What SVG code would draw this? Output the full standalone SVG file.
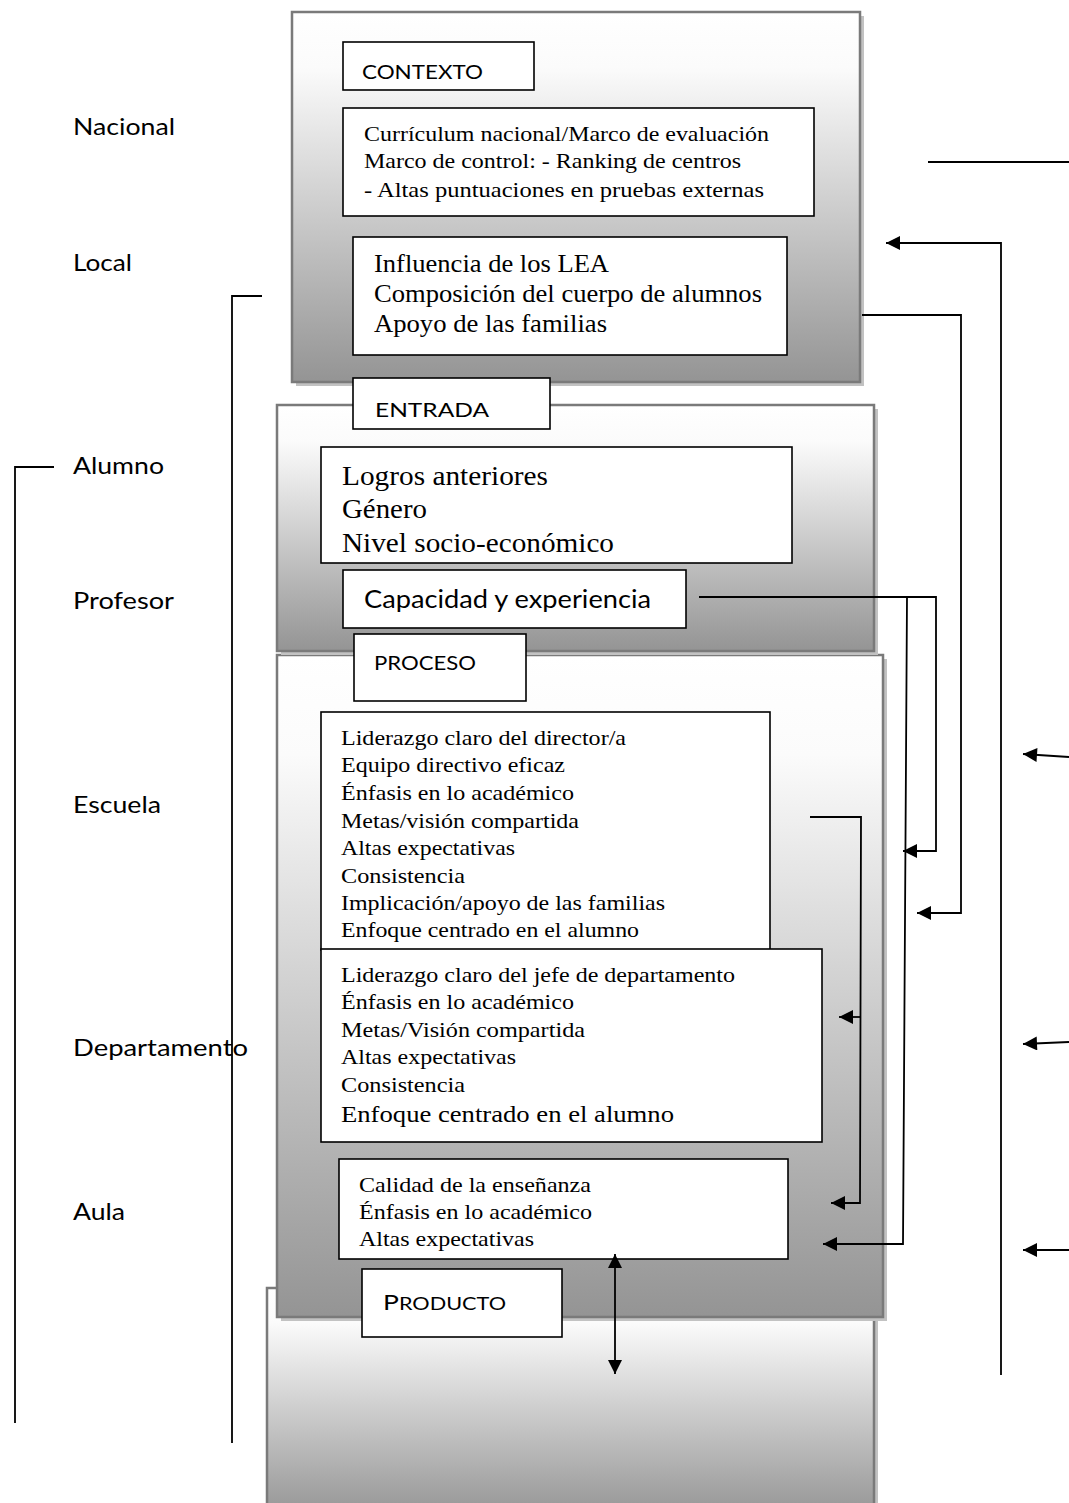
<svg xmlns="http://www.w3.org/2000/svg" width="1069" height="1503" viewBox="0 0 1069 1503">
<defs>
<linearGradient id="g" x1="0" y1="0" x2="0" y2="1">
<stop offset="0" stop-color="#ffffff"/>
<stop offset="0.15" stop-color="#fbfbfb"/>
<stop offset="1" stop-color="#949494"/>
</linearGradient>
<marker id="ah" viewBox="0 0 10 10" refX="10" refY="5" markerWidth="16" markerHeight="14" markerUnits="userSpaceOnUse" orient="auto-start-reverse">
<path d="M0,0 L10,5 L0,10 z" fill="#000"/>
</marker>
</defs>
<style>
.outer{fill:url(#g);stroke:#7a7a7a;stroke-width:2.5}
.shadow{fill:#c2c2c2}
.box{fill:#fff;stroke:#000;stroke-width:1.6}
.serif{font-family:"Liberation Serif","Times New Roman",serif;fill:#000}
.sans{font-family:Lato,"Open Sans","Liberation Sans",sans-serif;fill:#000}
.lvl{font-family:Lato,"Open Sans","Liberation Sans",sans-serif;font-size:24px;fill:#000}
.ln{fill:none;stroke:#000;stroke-width:1.8}
.arr{fill:none;stroke:#000;stroke-width:1.8;marker-end:url(#ah)}
</style>
<rect width="1069" height="1503" fill="#fff"/>

<!-- outer stage boxes -->
<g id="producto-panel">
<rect class="shadow" x="271" y="1292" width="607" height="230"/>
<rect class="outer" x="267" y="1288" width="607" height="230"/>
</g>
<g id="proceso-panel">
<rect class="shadow" x="281" y="659" width="606" height="662"/>
<rect class="outer" x="277" y="655" width="606" height="662"/>
</g>
<g id="entrada-panel">
<rect class="shadow" x="281" y="409" width="597" height="246"/>
<rect class="outer" x="277" y="405" width="597" height="246"/>
</g>
<g id="contexto-panel">
<rect class="shadow" x="296" y="16" width="568" height="370"/>
<rect class="outer" x="292" y="12" width="568" height="370"/>
</g>

<!-- level labels -->
<g id="levels">
<text class="lvl" x="73" y="135" textLength="102" lengthAdjust="spacingAndGlyphs">Nacional</text>
<text class="lvl" x="73" y="271" textLength="59" lengthAdjust="spacingAndGlyphs">Local</text>
<text class="lvl" x="73" y="474" textLength="91" lengthAdjust="spacingAndGlyphs">Alumno</text>
<text class="lvl" x="73" y="609" textLength="101" lengthAdjust="spacingAndGlyphs">Profesor</text>
<text class="lvl" x="73" y="813" textLength="88" lengthAdjust="spacingAndGlyphs">Escuela</text>
<text class="lvl" x="73" y="1056" textLength="175" lengthAdjust="spacingAndGlyphs">Departamento</text>
<text class="lvl" x="73" y="1220" textLength="52" lengthAdjust="spacingAndGlyphs">Aula</text>
</g>

<!-- CONTEXTO -->
<g id="contexto-label">
<rect class="box" x="343" y="42" width="191" height="48"/>
<text class="sans" x="362" y="79" font-size="20" textLength="121" lengthAdjust="spacingAndGlyphs">CONTEXTO</text>
</g>
<g id="nacional">
<rect class="box" x="343" y="108" width="471" height="108"/>
<text class="serif" font-size="21" x="364" y="141" textLength="405" lengthAdjust="spacingAndGlyphs">Currículum nacional/Marco de evaluación</text>
<text class="serif" font-size="21" x="364" y="168" textLength="377" lengthAdjust="spacingAndGlyphs">Marco de control: - Ranking de centros</text>
<text class="serif" font-size="21" x="364" y="197" textLength="400" lengthAdjust="spacingAndGlyphs">- Altas puntuaciones en pruebas externas</text>
</g>
<g id="local">
<rect class="box" x="353" y="237" width="434" height="118"/>
<text class="serif" font-size="26" x="374" y="272" textLength="235" lengthAdjust="spacingAndGlyphs">Influencia de los LEA</text>
<text class="serif" font-size="26" x="374" y="302" textLength="388" lengthAdjust="spacingAndGlyphs">Composición del cuerpo de alumnos</text>
<text class="serif" font-size="26" x="374" y="332" textLength="233" lengthAdjust="spacingAndGlyphs">Apoyo de las familias</text>
</g>

<!-- ENTRADA -->
<g id="entrada-label">
<rect class="box" x="353" y="378" width="197" height="51"/>
<text class="sans" x="375" y="417" font-size="20" textLength="114" lengthAdjust="spacingAndGlyphs">ENTRADA</text>
</g>
<g id="alumno">
<rect class="box" x="321" y="447" width="471" height="116"/>
<text class="serif" font-size="27" x="342" y="485" textLength="206" lengthAdjust="spacingAndGlyphs">Logros anteriores</text>
<text class="serif" font-size="27" x="342" y="518" textLength="85" lengthAdjust="spacingAndGlyphs">Género</text>
<text class="serif" font-size="27" x="342" y="552" textLength="272" lengthAdjust="spacingAndGlyphs">Nivel socio-económico</text>
</g>
<g id="profesor">
<rect class="box" x="343" y="570" width="343" height="58"/>
<text class="sans" x="364" y="608" font-size="25" textLength="287" lengthAdjust="spacingAndGlyphs">Capacidad y experiencia</text>
</g>

<!-- PROCESO -->
<g id="proceso-label">
<rect class="box" x="354" y="634" width="172" height="67"/>
<text class="sans" x="374" y="670" font-size="19" textLength="102" lengthAdjust="spacingAndGlyphs">PROCESO</text>
</g>
<g id="escuela">
<rect class="box" x="321" y="712" width="449" height="238"/>
<text class="serif" font-size="21" x="341" y="745" textLength="285" lengthAdjust="spacingAndGlyphs">Liderazgo claro del director/a</text>
<text class="serif" font-size="21" x="341" y="772" textLength="224" lengthAdjust="spacingAndGlyphs">Equipo directivo eficaz</text>
<text class="serif" font-size="21" x="341" y="800" textLength="233" lengthAdjust="spacingAndGlyphs">Énfasis en lo académico</text>
<text class="serif" font-size="21" x="341" y="828" textLength="238" lengthAdjust="spacingAndGlyphs">Metas/visión compartida</text>
<text class="serif" font-size="21" x="341" y="855" textLength="174" lengthAdjust="spacingAndGlyphs">Altas expectativas</text>
<text class="serif" font-size="21" x="341" y="883" textLength="124" lengthAdjust="spacingAndGlyphs">Consistencia</text>
<text class="serif" font-size="21" x="341" y="910" textLength="324" lengthAdjust="spacingAndGlyphs">Implicación/apoyo de las familias</text>
<text class="serif" font-size="21" x="341" y="937" textLength="298" lengthAdjust="spacingAndGlyphs">Enfoque centrado en el alumno</text>
</g>
<g id="departamento">
<rect class="box" x="321" y="949" width="501" height="193"/>
<text class="serif" font-size="21" x="341" y="982" textLength="394" lengthAdjust="spacingAndGlyphs">Liderazgo claro del jefe de departamento</text>
<text class="serif" font-size="21" x="341" y="1009" textLength="233" lengthAdjust="spacingAndGlyphs">Énfasis en lo académico</text>
<text class="serif" font-size="21" x="341" y="1037" textLength="244" lengthAdjust="spacingAndGlyphs">Metas/Visión compartida</text>
<text class="serif" font-size="21" x="341" y="1064" textLength="175" lengthAdjust="spacingAndGlyphs">Altas expectativas</text>
<text class="serif" font-size="21" x="341" y="1092" textLength="124" lengthAdjust="spacingAndGlyphs">Consistencia</text>
<text class="serif" font-size="24" x="341" y="1122" textLength="333" lengthAdjust="spacingAndGlyphs">Enfoque centrado en el alumno</text>
</g>
<g id="aula">
<rect class="box" x="339" y="1159" width="449" height="100"/>
<text class="serif" font-size="21" x="359" y="1192" textLength="232" lengthAdjust="spacingAndGlyphs">Calidad de la enseñanza</text>
<text class="serif" font-size="21" x="359" y="1219" textLength="233" lengthAdjust="spacingAndGlyphs">Énfasis en lo académico</text>
<text class="serif" font-size="21" x="359" y="1246" textLength="175" lengthAdjust="spacingAndGlyphs">Altas expectativas</text>
</g>

<!-- PRODUCTO -->
<g id="producto-label">
<rect class="box" x="362" y="1269" width="200" height="68"/>
<text class="sans" x="383" y="1310" font-size="22" textLength="123" lengthAdjust="spacingAndGlyphs">P<tspan font-size="18">RODUCTO</tspan></text>
</g>

<!-- connectors -->
<g id="connectors">
<path class="ln" d="M928,162 H1069"/>
<path class="arr" d="M1001,1375 V243 H886"/>
<path class="arr" d="M862,315 H961 V913 H917"/>
<path class="arr" d="M699,597 H936 V851 H903"/>
<path class="arr" d="M907,597 L903,1244 H823"/>
<path class="arr" d="M810,817 H861 L860,1203 H831"/>
<path class="arr" d="M860,1017 H839"/>
<path class="arr" d="M1069,757 L1023,754"/>
<path class="arr" d="M1069,1042 L1023,1044"/>
<path class="arr" d="M1069,1250 H1023"/>
<path class="arr" d="M615,1374 V1254" marker-start="url(#ah)"/>
<path class="ln" d="M262,296 H232 V1443"/>
<path class="ln" d="M54,467 H15 V1423"/>
</g>
</svg>
